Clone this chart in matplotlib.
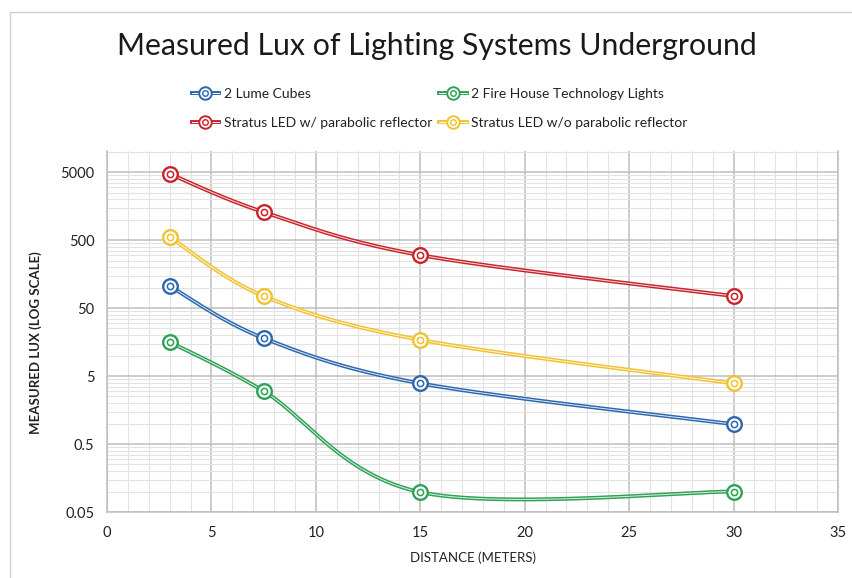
import numpy as np
import matplotlib
matplotlib.use("Agg")
import matplotlib.pyplot as plt
from matplotlib.lines import Line2D
from matplotlib.legend_handler import HandlerTuple
from matplotlib.patches import Rectangle
from matplotlib.ticker import FixedLocator, FixedFormatter, NullFormatter

plt.rcParams['font.family'] = ['Lato', 'DejaVu Sans']

distance = [3, 7.5, 15, 30]
series_names = ["2 Lume Cubes", "Stratus LED w/ parabolic reflector",
                "2 Fire House Technology Lights", "Stratus LED w/o parabolic reflector"]
lume = [105, 18, 3.9, 0.98]
stratus_w = [4700, 1290, 300, 75]
firehouse = [15.8, 3.0, 0.098, 0.1]
stratus_wo = [553, 75, 17, 3.9]
values = [lume, stratus_w, firehouse, stratus_wo]
colors = ['#2C67AE', '#C9232B', '#2DA155', '#F0C22E']

y_ticks = [0.05, 0.5, 5, 50, 500, 5000]
y_tick_labels = ['0.05', '0.5', '5', '50', '500', '5000']
x_ticks = [0, 5, 10, 15, 20, 25, 30, 35]
Y_MIN, Y_MAX = 0.05, 10200


def excel_smooth(xs, ys, n=60):
    """Bezier smoothing (Excel-style) in x / log10(y) space."""
    P = np.column_stack([np.asarray(xs, float), np.log10(np.asarray(ys, float))])
    m = len(P)
    out = []
    for i in range(m - 1):
        p0 = P[i]
        p3 = P[i + 1]
        pm = P[i - 1] if i > 0 else P[i]
        pp = P[i + 2] if i + 2 < m else P[i + 1]
        c1 = p0 + (p3 - pm) / 6.0
        c2 = p3 - (pp - p0) / 6.0
        t = np.linspace(0, 1, n)[:, None]
        seg = ((1 - t) ** 3) * p0 + 3 * ((1 - t) ** 2) * t * c1 + 3 * (1 - t) * t ** 2 * c2 + t ** 3 * p3
        out.append(seg if i == 0 else seg[1:])
    S = np.vstack(out)
    return S[:, 0], 10 ** S[:, 1]


W, H = 852, 578
fig = plt.figure(figsize=(W / 100, H / 100), dpi=100)
fig.patch.set_facecolor('white')

# chart border
fig.add_artist(Rectangle((10 / W, -0.05), 1.2, 1 - 12 / H + 0.05, transform=fig.transFigure,
                         fill=False, edgecolor='#D0D0D0', linewidth=1.0))

ax = fig.add_axes([107 / W, 1 - 512 / H, (838 - 107) / W, (512 - 151) / H])
ax.set_yscale('log')

# grid / ticks
minor_y = [m * 0.05 * 10 ** k for k in range(0, 6) for m in range(2, 10)]
minor_y = [v for v in minor_y if v < Y_MAX]
ax.yaxis.set_major_locator(FixedLocator(y_ticks))
ax.yaxis.set_major_formatter(FixedFormatter(y_tick_labels))
ax.yaxis.set_minor_locator(FixedLocator(minor_y))
ax.yaxis.set_minor_formatter(NullFormatter())
ax.xaxis.set_major_locator(FixedLocator(x_ticks))
ax.xaxis.set_minor_locator(FixedLocator(np.arange(0, 36, 1)))
ax.xaxis.set_minor_formatter(NullFormatter())
ax.set_xlim(0, 35)
ax.set_ylim(Y_MIN, Y_MAX)

ax.tick_params(which='both', length=0)
ax.tick_params(axis='y', labelsize=10.5, pad=9, labelcolor='#222222')
ax.tick_params(axis='x', labelsize=10.5, pad=10, labelcolor='#222222')
ax.grid(which='major', color='#BEBEBE', linewidth=1.1)
ax.grid(which='minor', color='#E3E3E3', linewidth=0.8)
ax.set_axisbelow(True)
for s in ['left', 'bottom', 'right']:
    ax.spines[s].set_color('#BEBEBE')
    ax.spines[s].set_linewidth(1.1)
ax.spines['top'].set_visible(False)

handles = []
for name, vals, c in zip(series_names, values, colors):
    sx, sy = excel_smooth(distance, vals)
    ax.plot(sx, sy, color=c, linewidth=2.8, solid_capstyle='round', zorder=3)
    ax.plot(sx, sy, color='white', linewidth=0.7, alpha=0.85, zorder=4)
    ax.plot(distance, vals, linestyle='none', marker='o', markersize=10.5,
            markerfacecolor='white', markeredgecolor=c, markeredgewidth=1.7, zorder=5)
    ax.plot(distance, vals, linestyle='none', marker='o', markersize=4.5,
            markerfacecolor='none', markeredgecolor=c, markeredgewidth=1.1, zorder=6)
    h1 = Line2D([], [], color=c, linewidth=2.8)
    h2 = Line2D([], [], color='white', linewidth=0.7)
    h3 = Line2D([], [], linestyle='none', marker='o', markersize=9, markerfacecolor='white',
                markeredgecolor=c, markeredgewidth=1.4)
    h4 = Line2D([], [], linestyle='none', marker='o', markersize=4, markerfacecolor='none',
                markeredgecolor=c, markeredgewidth=1.0)
    handles.append((h1, h2, h3, h4))

ax.set_xlabel('DISTANCE (METERS)', fontsize=9.5, color='#222222', labelpad=8)
ax.set_ylabel('MEASURED LUX (LOG SCALE)', fontsize=9.5, color='#222222',
              fontweight='bold')
ax.yaxis.set_label_coords((42 - 107) / 731, (512 - 343) / 361)

fig.text(437 / W, 1 - 46 / H, 'Measured Lux of Lighting Systems Underground',
         ha='center', va='center', fontsize=21.8, color='#1A1A1A')

leg = fig.legend(handles, series_names, ncol=2, loc='upper left',
                 bbox_to_anchor=(186 / W, 1 - 82 / H),
                 handler_map={tuple: HandlerTuple(ndivide=1)},
                 frameon=False, fontsize=10, handlelength=2.0, handletextpad=0.35,
                 columnspacing=0.45, labelspacing=1.25, borderaxespad=0)
for t in leg.get_texts():
    t.set_color('#222222')

fig.savefig('out.png', dpi=100)
